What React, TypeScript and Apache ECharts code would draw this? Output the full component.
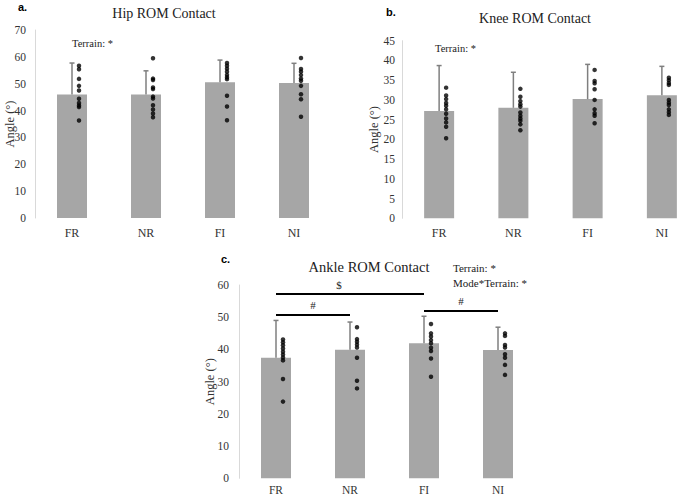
import React, { useEffect, useRef } from "react";
import * as echarts from "echarts";

const categories = ["FR", "NR", "FI", "NI"];

const hipMean = [46.0, 46.0, 50.5, 50.3];
const hipSd = [11.7, 8.8, 8.3, 7.3];
const hipFR = [56.7, 55.4, 51.8, 49.2, 47.5, 44.4, 42.8, 41.9, 41.3, 36.3];
const hipNR = [59.5, 51.9, 51.4, 48.6, 48.0, 45.2, 44.5, 42.0, 40.4, 38.9, 37.5];
const hipFI = [57.7, 56.7, 55.6, 54.5, 53.3, 52.4, 51.7, 45.5, 41.5, 36.4];
const hipNI = [59.6, 55.5, 54.5, 53.2, 51.9, 51.1, 49.2, 46.1, 44.2, 37.7];

const kneeMean = [27.2, 28.0, 30.2, 31.2];
const kneeSd = [11.5, 9.0, 8.8, 7.3];
const kneeFR = [33.1, 31.1, 30.2, 29.2, 28.5, 27.6, 26.5, 25.3, 24.3, 23.2, 20.3];
const kneeNR = [32.8, 30.8, 29.7, 28.9, 28.3, 26.8, 26.0, 25.3, 24.7, 23.8, 22.3];
const kneeFI = [37.6, 34.8, 34.2, 32.7, 30.0, 27.6, 26.6, 26.0, 24.1];
const kneeNI = [35.6, 35.0, 34.3, 33.8, 30.0, 29.3, 28.7, 27.6, 26.9, 26.2];

const ankleMean = [37.4, 39.9, 41.9, 39.8];
const ankleSd = [11.6, 8.6, 8.4, 7.1];
const ankleFR = [43.1, 42.2, 41.3, 40.3, 39.3, 38.4, 37.5, 36.6, 30.8, 23.8];
const ankleNR = [46.9, 43.2, 42.4, 41.5, 40.6, 37.4, 30.3, 27.9];
const ankleFI = [47.9, 45.0, 44.0, 42.9, 41.9, 40.5, 39.5, 37.2, 31.5];
const ankleNI = [45.0, 44.2, 41.4, 40.6, 38.5, 37.4, 35.2, 32.1];

// significance brackets: [from, to, level, label]
const ankleBrackets: [string, string, number, string][] = [
  ["FR", "FI", 57.2, "$"],
  ["FR", "NR", 50.8, "#"],
  ["FI", "NI", 52.1, "#"],
];

const SERIF = "'Liberation Serif', 'Times New Roman', serif";
const SANS = "'Liberation Sans', Arial, sans-serif";
const BAR = "#a6a6a6";
const ERR = "#7f7f7f";

function dots(groups: number[][]) {
  const out: [string, number][] = [];
  groups.forEach((g, i) => g.forEach((v) => out.push([categories[i], v])));
  return out;
}

function panelSeries(idx: number, mean: number[], sd: number[], groups: number[][], extra?: any) {
  const bar: any = {
    type: "bar",
    xAxisIndex: idx,
    yAxisIndex: idx,
    data: mean,
    barWidth: 30,
    itemStyle: { color: BAR },
    z: 2,
  };
  if (extra) bar.markLine = extra;
  return [
    bar,
    {
      type: "custom",
      xAxisIndex: idx,
      yAxisIndex: idx,
      z: 3,
      data: mean.map((m, i) => [i, m, sd[i]]),
      renderItem: (params: any, api: any) => {
        const c = api.value(0);
        const m = api.value(1);
        const s = api.value(2);
        const p0 = api.coord([c, m]);
        const p1 = api.coord([c, m + s]);
        const st = { stroke: ERR, lineWidth: 1.5 };
        return {
          type: "group",
          children: [
            { type: "line", shape: { x1: p0[0], y1: p0[1], x2: p1[0], y2: p1[1] }, style: st },
            { type: "line", shape: { x1: p1[0] - 2.5, y1: p1[1], x2: p1[0] + 2.5, y2: p1[1] }, style: st },
          ],
        };
      },
    },
    {
      type: "scatter",
      xAxisIndex: idx,
      yAxisIndex: idx,
      z: 4,
      data: dots(groups),
      symbolSize: 4.5,
      symbolOffset: [7, 0],
      itemStyle: { color: "#000" },
    },
  ];
}

export default function App() {
  const ref = useRef<HTMLDivElement>(null);
  useEffect(() => {
    document.body.style.margin = "0";
    const chart = echarts.init(ref.current!, undefined, { renderer: "svg" });

    const grids = [
      { left: 35, top: 30, width: 296, height: 188, outerBoundsMode: "none", containLabel: false },
      { left: 402, top: 40.7, width: 297, height: 177.6, outerBoundsMode: "none", containLabel: false },
      { left: 239, top: 285, width: 296, height: 193.3, outerBoundsMode: "none", containLabel: false },
    ];
    const yCfg = [
      { max: 70, interval: 10, margin: 9, nameGap: 19 },
      { max: 45, interval: 5, margin: 7, nameGap: 22 },
      { max: 60, interval: 10, margin: 10, nameGap: 23 },
    ];
    const xMargin = [9, 9, 6];

    const xAxis = grids.map((_, i) => ({
      type: "category",
      gridIndex: i,
      data: categories,
      axisLine: { show: false },
      axisTick: { show: false },
      axisLabel: { fontFamily: SERIF, fontSize: i === 2 ? 11.5 : 12, color: "#333", margin: xMargin[i] },
    }));
    const yAxis = yCfg.map((c, i) => ({
      type: "value",
      gridIndex: i,
      min: 0,
      max: c.max,
      interval: c.interval,
      name: "Angle (°)",
      nameLocation: "middle",
      nameRotate: 90,
      nameGap: c.nameGap,
      nameMoveOverlap: false,
      nameTextStyle: { fontFamily: SERIF, fontSize: 12.5, color: "#333" },
      splitLine: { show: false },
      axisTick: { show: false },
      axisLine: { show: true, lineStyle: { color: "#d9d9d9", width: 1 } },
      axisLabel: { fontFamily: SERIF, fontSize: 11.5, color: "#333", margin: c.margin },
    }));

    const bracketMark = {
      silent: true,
      symbol: "none",
      lineStyle: { color: "#000", width: 2, type: "solid" },
      label: {
        show: true,
        position: "insideMiddleTop",
        distance: 4,
        fontFamily: SERIF,
        fontSize: 11,
        color: "#222",
        formatter: (p: any) => p.name,
      },
      data: ankleBrackets.map(([a, b, y, lab]) => [
        lab === "$"
          ? { coord: [a, y], name: lab, label: { padding: [0, 22, 0, 0] } }
          : { coord: [a, y], name: lab },
        { coord: [b, y] },
      ]),
    };

    const series = [
      ...panelSeries(0, hipMean, hipSd, [hipFR, hipNR, hipFI, hipNI]),
      ...panelSeries(1, kneeMean, kneeSd, [kneeFR, kneeNR, kneeFI, kneeNI]),
      ...panelSeries(2, ankleMean, ankleSd, [ankleFR, ankleNR, ankleFI, ankleNI], bracketMark),
    ];

    const txt = (text: string, x: number, y: number, size: number, opts: any = {}) => ({
      type: "text",
      x,
      y,
      style: {
        text,
        fontFamily: opts.font || SERIF,
        fontSize: size,
        fontWeight: opts.bold ? "bold" : "normal",
        fill: opts.color || "#222",
        textAlign: opts.align || "left",
        textVerticalAlign: "middle",
      },
    });

    chart.setOption({
      animation: false,
      backgroundColor: "#fff",
      grid: grids,
      xAxis,
      yAxis,
      series,
      graphic: [
        txt("a.", 18, 7, 11, { font: SANS, bold: true, color: "#000" }),
        txt("Hip ROM Contact", 164, 13, 14, { align: "center" }),
        txt("Terrain: *", 72, 43, 10.5),
        txt("b.", 386, 11.5, 11, { font: SANS, bold: true, color: "#000" }),
        txt("Knee ROM Contact", 535, 18, 14, { align: "center" }),
        txt("Terrain: *", 435, 48, 10.5),
        txt("c.", 221, 259, 11, { font: SANS, bold: true, color: "#000" }),
        txt("Ankle ROM Contact", 369, 267, 14.5, { align: "center" }),
        txt("Terrain: *", 453, 268, 11),
        txt("Mode*Terrain: *", 453, 283, 11),
      ],
    });
    return () => chart.dispose();
  }, []);
  return <div ref={ref} style={{ width: 677, height: 496 }} />;
}
